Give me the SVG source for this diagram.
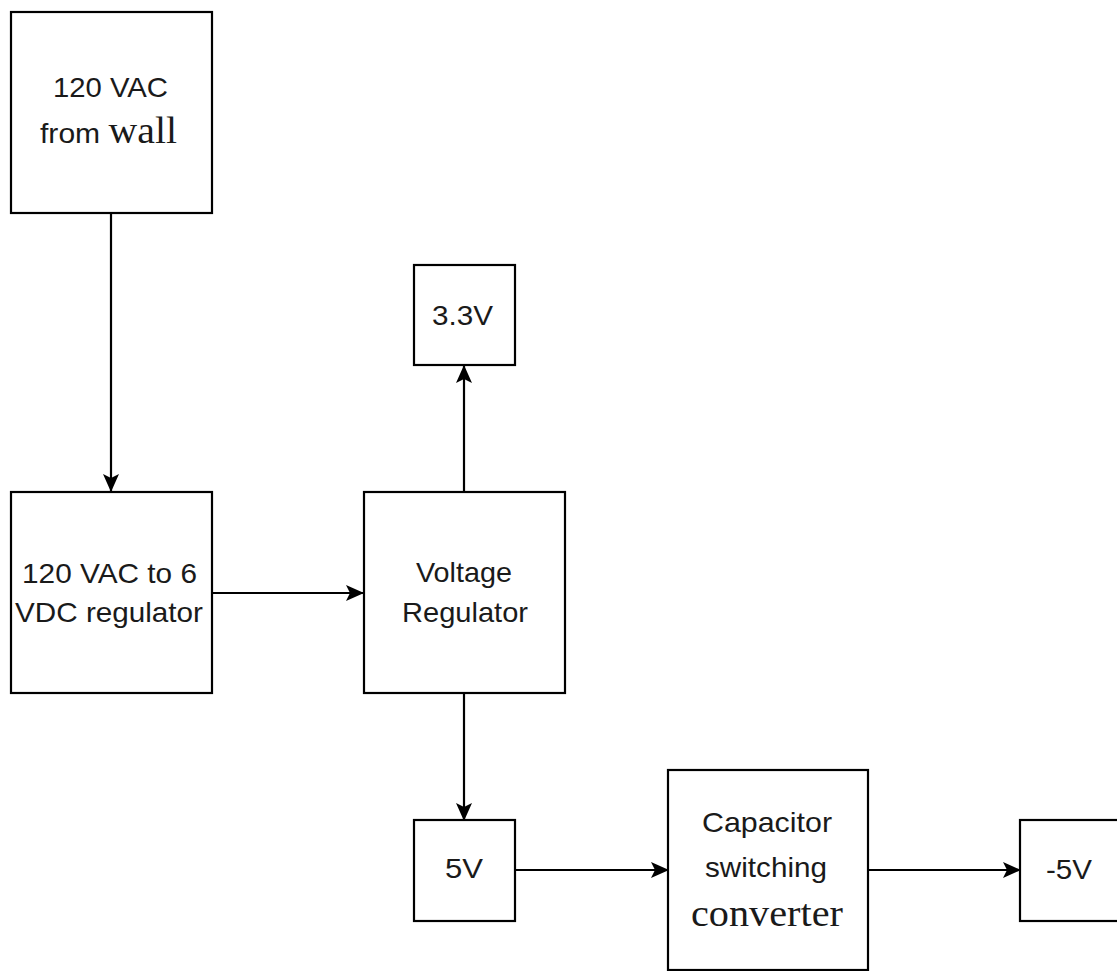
<svg xmlns="http://www.w3.org/2000/svg" width="1117" height="971" viewBox="0 0 1117 971">
<style>
.box{fill:#fff;stroke:#000;stroke-width:2.2}
.t{font-family:"Liberation Sans",Arial,sans-serif;font-size:28px;fill:#1a1a1a;text-anchor:middle}
.s{font-family:"Liberation Serif","Times New Roman",serif;font-size:37px}
.c{stroke:#000;stroke-width:2.2;fill:none;marker-end:url(#ah)}
</style>
<defs>
<marker id="ah" markerWidth="18" markerHeight="16" refX="17" refY="8" orient="auto" markerUnits="userSpaceOnUse" viewBox="0 0 18 16">
<path d="M0,0 L18,8 L0,16 L4,8 Z" fill="#000"/>
</marker>
</defs>
<rect width="1117" height="971" fill="#fff"/>
<g id="connectors">
<path class="c" d="M111,213 V491"/>
<path class="c" d="M212,593 H363"/>
<path class="c" d="M464,492 V366"/>
<path class="c" d="M464,693 V820"/>
<path class="c" d="M515,870 H668"/>
<path class="c" d="M868,870 H1020"/>
</g>
<g id="wall">
<rect class="box" x="11" y="12" width="201" height="201"/>
<text class="t" x="110.5" y="97" textLength="115" lengthAdjust="spacingAndGlyphs">120 VAC</text>
<text class="t" x="108.5" y="143" textLength="137" lengthAdjust="spacingAndGlyphs">from <tspan class="s">wall</tspan></text>
</g>
<g id="acdc">
<rect class="box" x="11" y="492" width="201" height="201"/>
<text class="t" x="109.5" y="583" textLength="175" lengthAdjust="spacingAndGlyphs">120 VAC to 6</text>
<text class="t" x="109" y="622" textLength="188" lengthAdjust="spacingAndGlyphs">VDC regulator</text>
</g>
<g id="vreg">
<rect class="box" x="364" y="492" width="201" height="201"/>
<text class="t" x="464" y="582" textLength="96" lengthAdjust="spacingAndGlyphs">Voltage</text>
<text class="t" x="465" y="622" textLength="126" lengthAdjust="spacingAndGlyphs">Regulator</text>
</g>
<g id="v33">
<rect class="box" x="414" y="265" width="101" height="100"/>
<text class="t" x="462.5" y="325" textLength="61" lengthAdjust="spacingAndGlyphs">3.3V</text>
</g>
<g id="v5">
<rect class="box" x="414" y="820" width="101" height="101"/>
<text class="t" x="464" y="878" textLength="38" lengthAdjust="spacingAndGlyphs">5V</text>
</g>
<g id="cap">
<rect class="box" x="668" y="770" width="200" height="200"/>
<text class="t" x="767" y="832" textLength="130" lengthAdjust="spacingAndGlyphs">Capacitor</text>
<text class="t" x="766" y="877" textLength="122" lengthAdjust="spacingAndGlyphs">switching</text>
<text class="t s" x="767" y="926" textLength="152" lengthAdjust="spacingAndGlyphs">converter</text>
</g>
<g id="vneg5">
<rect class="box" x="1020" y="820" width="101" height="101"/>
<text class="t" x="1069" y="879" textLength="46" lengthAdjust="spacingAndGlyphs">-5V</text>
</g>
</svg>
